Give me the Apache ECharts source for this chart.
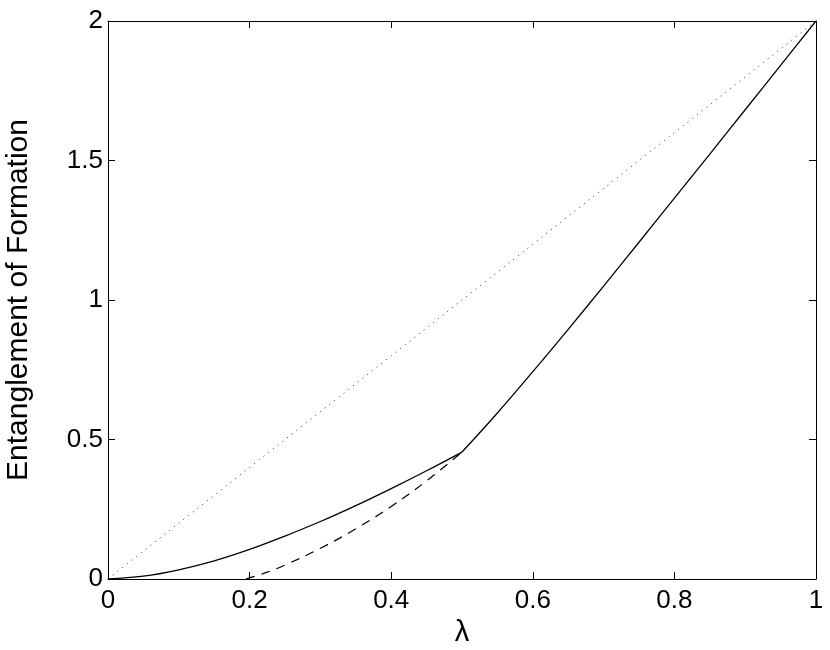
<!DOCTYPE html>
<html><head><meta charset="utf-8">
<script src="https://cdn.jsdelivr.net/npm/echarts@6/dist/echarts.min.js"></script>
<style>html,body{margin:0;padding:0;background:#fff}#c{width:830px;height:650px}</style>
</head><body><div id="c"></div>
<script>
const xTicks = [0, 0.2, 0.4, 0.6, 0.8, 1];
const yTicks = [0, 0.5, 1, 1.5, 2];
const lambdaLow = [0, 0.05, 0.1, 0.15, 0.2, 0.25, 0.3, 0.35, 0.4, 0.45, 0.5];
const solidLow = [0, 0.010, 0.033, 0.065, 0.106, 0.154, 0.206, 0.263, 0.324, 0.388, 0.455];
const lambdaHigh = [0.5, 0.55, 0.6, 0.65, 0.7, 0.75, 0.8, 0.85, 0.9, 0.95, 1];
const solidHigh = [0.455, 0.595, 0.743, 0.895, 1.05, 1.207, 1.365, 1.523, 1.682, 1.841, 2];
const lambdaDash = [0.195, 0.22, 0.25, 0.3, 0.35, 0.4, 0.45, 0.5];
const dashed = [0, 0.02, 0.05, 0.11, 0.18, 0.26, 0.352, 0.455];
const lambdaDot = [0, 1];
const dotted = [0, 2];

const zip = (a, b) => a.map((v, i) => [v, b[i]]);
const font = 'Liberation Sans, Arial, Helvetica, sans-serif';
function mkAxis(extra) {
  return Object.assign({
    type: 'value',
    axisLine: {show: true, onZero: false, lineStyle: {color: '#000', width: 1}},
    axisTick: {show: true, inside: true, length: 7, lineStyle: {color: '#000', width: 1}},
    splitLine: {show: false}
  }, extra);
}
const chart = echarts.init(document.getElementById('c'));
chart.setOption({
  animation: false,
  backgroundColor: '#fff',
  grid: {left: 108, right: 14, top: 21, bottom: 71, containLabel: false, outerBoundsMode: 'none'},
  xAxis: [
    mkAxis({min: xTicks[0], max: xTicks[xTicks.length-1], interval: 0.2, position: 'bottom',
      name: 'λ', nameLocation: 'middle', nameGap: 35,
      nameTextStyle: {fontSize: 29, color: '#000', fontFamily: font},
      axisLabel: {fontSize: 26, color: '#000', fontFamily: font, margin: 9}}),
    mkAxis({min: 0, max: 1, interval: 0.2, position: 'top', axisLabel: {show: false}})
  ],
  yAxis: [
    mkAxis({min: yTicks[0], max: yTicks[yTicks.length-1], interval: 0.5, position: 'left',
      name: 'Entanglement of Formation', nameLocation: 'middle', nameGap: 74, nameRotate: 90,
      nameTextStyle: {fontSize: 30, color: '#000', fontFamily: font},
      axisLabel: {fontSize: 26, color: '#000', fontFamily: font, margin: 5}}),
    mkAxis({min: 0, max: 2, interval: 0.5, position: 'right', axisLabel: {show: false}})
  ],
  series: [
    {type: 'line', data: zip(lambdaDot, dotted), showSymbol: false, lineStyle: {color: '#333', width: 1, type: [1, 5]}},
    {type: 'line', data: zip(lambdaDash, dashed), showSymbol: false, smooth: 0.4, lineStyle: {color: '#000', width: 1.2, type: [9, 7]}},
    {type: 'line', data: zip(lambdaLow, solidLow), showSymbol: false, smooth: 0.4, lineStyle: {color: '#000', width: 1.3}},
    {type: 'line', data: zip(lambdaHigh, solidHigh), showSymbol: false, smooth: 0.4, lineStyle: {color: '#000', width: 1.3}}
  ]
});
</script></body></html>
